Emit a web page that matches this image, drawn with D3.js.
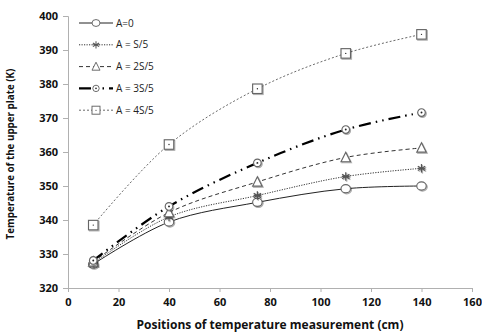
<!DOCTYPE html>
<html><head><meta charset="utf-8">
<script src="https://cdn.jsdelivr.net/npm/d3@7"></script>
<style>body{margin:0;background:#fff}svg{display:block}</style>
</head><body>
<svg id="c" width="482" height="335"></svg>
<script>
const positions = [10, 40, 75, 110, 140];
const seriesNames = ["A=0", "A = S/5", "A = 2S/5", "A = 3S/5", "A = 4S/5"];
const valsA0 = [327.0, 339.4, 345.2, 349.2, 350.0];
const valsA1 = [327.3, 340.9, 347.2, 352.8, 355.2];
const valsA2 = [327.7, 342.2, 351.2, 358.4, 361.2];
const valsA3 = [328.1, 344.0, 356.8, 366.6, 371.6];
const valsA4 = [338.5, 362.2, 378.6, 389.0, 394.6];
const xTicks = [0, 20, 40, 60, 80, 100, 120, 140, 160];
const yTicks = [320, 330, 340, 350, 360, 370, 380, 390, 400];

const allVals = [valsA0, valsA1, valsA2, valsA3, valsA4];
const styles = [
  {dash: null, w: 1, color: "#222", marker: "circle"},
  {dash: "1.2,1.3", w: 1, color: "#333", marker: "asterisk"},
  {dash: "4,3", w: 1, color: "#333", marker: "triangle"},
  {dash: "12,5,1.5,5,1.5,5", w: 2.2, color: "#000", marker: "circledot"},
  {dash: "2,2", w: 0.8, color: "#444", marker: "square"}
];

const svg = d3.select("#c");
const x = d3.scaleLinear().domain([0,160]).range([68,472]);
const y = d3.scaleLinear().domain([320,400]).range([288,16]);
const font = "'Open Sans', 'Liberation Sans', sans-serif";

// axes
const xa = svg.append("g").attr("transform","translate(0,288)")
  .call(d3.axisBottom(x).tickValues(xTicks).tickSize(4).tickPadding(6));
const ya = svg.append("g").attr("transform","translate(68,0)")
  .call(d3.axisLeft(y).tickValues(yTicks).tickSize(5).tickPadding(5));
[xa, ya].forEach(g => {
  g.select(".domain").attr("stroke","#b0b0b0");
  g.selectAll(".tick line").attr("stroke","#b0b0b0");
  g.selectAll("text").attr("font-family",font).attr("font-weight","bold").attr("font-size",11).attr("fill","#111");
});

svg.append("text").attr("x",270).attr("y",329).attr("text-anchor","middle")
  .attr("font-family",font).attr("font-weight","bold").attr("font-size",12).attr("fill","#111")
  .text("Positions of temperature measurement (cm)");
svg.append("text").attr("transform","translate(14,154) rotate(-90)").attr("text-anchor","middle")
  .attr("font-family",font).attr("font-weight","bold").attr("font-size",9.8).attr("fill","#111")
  .text("Temperature of the upper plate (K)");

const defs = svg.append("defs");
const f = defs.append("filter").attr("id","sh").attr("x","-50%").attr("y","-50%").attr("width","200%").attr("height","200%");
f.append("feDropShadow").attr("dx",1).attr("dy",1).attr("stdDeviation",0.8).attr("flood-color","#000").attr("flood-opacity",0.35);

function drawMarker(g, type, cx, cy, shadow, k) {
  const mg = g.append("g").attr("transform",`translate(${cx},${cy}) scale(${k})`);
  if (shadow) mg.attr("filter","url(#sh)");
  const st = "#666";
  if (type === "circle") {
    mg.append("ellipse").attr("rx",5).attr("ry",4.3).attr("fill","#fff").attr("stroke",st).attr("stroke-width",1.2);
  } else if (type === "asterisk") {
    [0,60,120].forEach(a => mg.append("line").attr("x1",0).attr("y1",-4.5).attr("x2",0).attr("y2",4.5)
      .attr("transform",`rotate(${a})`).attr("stroke","#555").attr("stroke-width",1.3));
    mg.append("line").attr("x1",-4).attr("x2",4).attr("y1",0).attr("y2",0).attr("stroke","#555").attr("stroke-width",1.2);
  } else if (type === "triangle") {
    mg.append("path").attr("d","M0,-5.5 L5,4.5 L-5,4.5 Z").attr("fill","#fff").attr("stroke",st).attr("stroke-width",1.2);
  } else if (type === "circledot") {
    mg.append("circle").attr("r",4).attr("fill","#fff").attr("stroke",st).attr("stroke-width",1.2);
    mg.append("circle").attr("r",1).attr("fill","#222");
  } else if (type === "square") {
    mg.append("rect").attr("x",-5).attr("y",-5).attr("width",10).attr("height",10).attr("fill","#fff").attr("stroke",st).attr("stroke-width",1.2);
    mg.append("circle").attr("r",0.7).attr("fill","#222");
  }
}

const line = d3.line().x(d=>x(d[0])).y(d=>y(d[1])).curve(d3.curveCatmullRom.alpha(0.5));
allVals.forEach((vals,i) => {
  const s = styles[i];
  const pts = positions.map((p,j)=>[p, vals[j]]);
  svg.append("path").attr("d", line(pts)).attr("fill","none").attr("stroke",s.color)
    .attr("stroke-width",s.w).attr("stroke-dasharray",s.dash);
});
allVals.forEach((vals,i) => {
  const s = styles[i];
  const g = svg.append("g");
  positions.forEach((p,j) => drawMarker(g, s.marker, x(p), y(vals[j]), true, 0.95));
});

// legend
const lg = svg.append("g");
seriesNames.forEach((name,i) => {
  const s = styles[i];
  const yy = 23 + i*21.8;
  lg.append("line").attr("x1",79).attr("x2",113).attr("y1",yy).attr("y2",yy)
    .attr("stroke",s.color).attr("stroke-width",s.w).attr("stroke-dasharray",s.dash);
  drawMarker(lg, s.marker, 96, yy, false, 0.8);
  lg.append("text").attr("x",116).attr("y",yy+3.5).attr("font-family",font).attr("font-size",10).attr("fill","#222").text(name);
});
</script>
</body></html>
